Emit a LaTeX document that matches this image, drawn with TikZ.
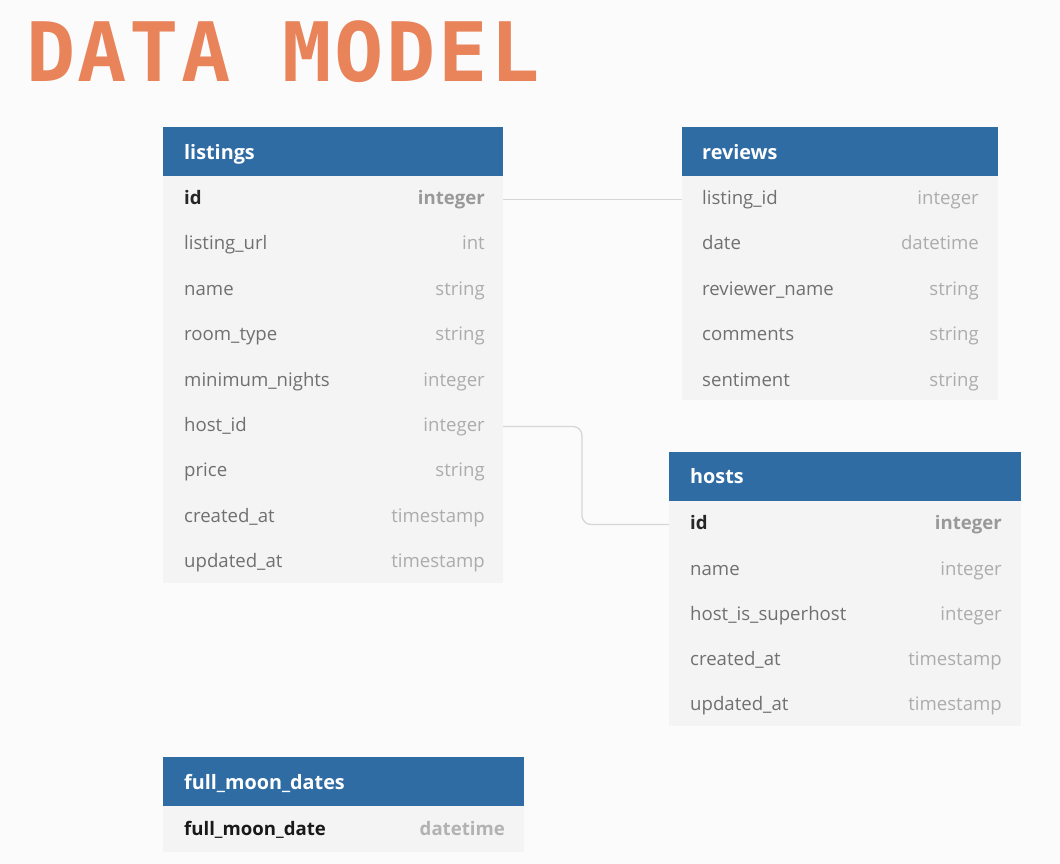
\documentclass[tikz,border=0pt]{standalone}
\usepackage{fontspec}
\setmainfont{Open Sans}
\newfontfamily\titlefont[LetterSpace=3]{DejaVu Sans Mono}
\usepackage{xcolor}
\usepackage{tikz}
\usetikzlibrary{positioning,calc}

\definecolor{hdrblue}{RGB}{47,108,164}
\definecolor{titleorange}{RGB}{233,131,90}
\definecolor{bodygray}{RGB}{244,244,245}
\definecolor{pagegray}{RGB}{251,251,251}
\definecolor{fieldgray}{RGB}{112,112,112}
\definecolor{typegray}{RGB}{172,172,172}
\definecolor{linkgray}{RGB}{214,214,214}

\tikzset{
    tblhead/.style={fill=hdrblue, anchor=north west, inner sep=0pt, outer sep=0pt, minimum height=49pt},
    tblbody/.style={fill=bodygray, anchor=north, inner sep=0pt, outer sep=0pt},
    hdrtext/.style={anchor=base west, inner sep=0pt, text=white, font=\fontsize{19.8}{19.8}\selectfont\bfseries},
    field/.style={anchor=base west, inner sep=0pt, text height=13pt, text depth=4pt, text=fieldgray, font=\fontsize{18.6}{18.6}\selectfont},
    ftype/.style={anchor=base east, inner sep=0pt, text height=13pt, text depth=4pt, text=typegray, font=\fontsize{18.6}{18.6}\selectfont},
    keyfield/.style={field, text=black!85, font=\fontsize{18.6}{18.6}\selectfont\bfseries},
    keytype/.style={ftype, text=black!40, font=\fontsize{18.6}{18.6}\selectfont\bfseries},
    link/.style={draw=linkgray, line width=1.3pt}
}

\begin{document}
\begin{tikzpicture}[x=1pt, y=-1pt]
    % Page
    \fill[pagegray] (0,0) rectangle (1060,864);
    \useasboundingbox (0,0) rectangle (1060,864);

    % Title
    \node[anchor=base west, inner sep=0pt, text=titleorange, font=\fontsize{82}{82}\titlefont\bfseries] (title) at (26,82) {DATA MODEL};

    % listings
    \node[tblhead, minimum width=340pt] (lst) at (163,127) {};
    \node[tblbody, minimum width=340pt, minimum height=407pt, below=0pt of lst] (lstbody) {};
    \node[hdrtext] (lst-title) at (184,159) {listings};
    \node[keyfield] (lst-id) at (184,204) {id};
    \node[keytype] (lst-id-t) at (485,204) {integer};
    \node[field] (lst-url) at (184,249) {listing\_url};
    \node[ftype] (lst-url-t) at (485,249) {int};
    \node[field] (lst-name) at (184,295) {name};
    \node[ftype] (lst-name-t) at (485,295) {string};
    \node[field] (lst-room) at (184,340) {room\_type};
    \node[ftype] (lst-room-t) at (485,340) {string};
    \node[field] (lst-min) at (184,386) {minimum\_nights};
    \node[ftype] (lst-min-t) at (485,386) {integer};
    \node[field] (lst-host) at (184,431) {host\_id};
    \node[ftype] (lst-host-t) at (485,431) {integer};
    \node[field] (lst-price) at (184,476) {price};
    \node[ftype] (lst-price-t) at (485,476) {string};
    \node[field] (lst-cre) at (184,522) {created\_at};
    \node[ftype] (lst-cre-t) at (485,522) {timestamp};
    \node[field] (lst-upd) at (184,567) {updated\_at};
    \node[ftype] (lst-upd-t) at (485,567) {timestamp};

    % reviews
    \node[tblhead, minimum width=316pt] (rev) at (682,127) {};
    \node[tblbody, minimum width=316pt, minimum height=224pt, below=0pt of rev] (revbody) {};
    \node[hdrtext] (rev-title) at (702,159) {reviews};
    \node[field] (rev-lid) at (702,204) {listing\_id};
    \node[ftype] (rev-lid-t) at (979,204) {integer};
    \node[field] (rev-date) at (702,249) {date};
    \node[ftype] (rev-date-t) at (979,249) {datetime};
    \node[field] (rev-name) at (702,295) {reviewer\_name};
    \node[ftype] (rev-name-t) at (979,295) {string};
    \node[field] (rev-com) at (702,340) {comments};
    \node[ftype] (rev-com-t) at (979,340) {string};
    \node[field] (rev-sent) at (702,386) {sentiment};
    \node[ftype] (rev-sent-t) at (979,386) {string};

    % hosts
    \node[tblhead, minimum width=352pt] (hst) at (669,452) {};
    \node[tblbody, minimum width=352pt, minimum height=225pt, below=0pt of hst] (hstbody) {};
    \node[hdrtext] (hst-title) at (690,483) {hosts};
    \node[keyfield] (hst-id) at (690,529) {id};
    \node[keytype] (hst-id-t) at (1002,529) {integer};
    \node[field] (hst-name) at (690,575) {name};
    \node[ftype] (hst-name-t) at (1002,575) {integer};
    \node[field] (hst-sup) at (690,620) {host\_is\_superhost};
    \node[ftype] (hst-sup-t) at (1002,620) {integer};
    \node[field] (hst-cre) at (690,665) {created\_at};
    \node[ftype] (hst-cre-t) at (1002,665) {timestamp};
    \node[field] (hst-upd) at (690,710) {updated\_at};
    \node[ftype] (hst-upd-t) at (1002,710) {timestamp};

    % full_moon_dates
    \node[tblhead, minimum width=361pt] (fmd) at (163,757) {};
    \node[tblbody, minimum width=361pt, minimum height=46pt, below=0pt of fmd] (fmdbody) {};
    \node[hdrtext] (fmd-title) at (184,789) {full\_moon\_dates};
    \node[keyfield, text=black!90] (fmd-date) at (184,835) {full\_moon\_date};
    \node[keytype, text=black!30] (fmd-date-t) at (505,835) {datetime};

    % Relations
    \coordinate (bend) at (582,430);
    \draw[link] (lst-id -| lst.east) -- (rev-lid -| rev.west);
    \draw[link, rounded corners=9pt] (lst-host -| lst.east) -- (lst-host -| bend) |- (hst-id -| hst.west);
\end{tikzpicture}
\end{document}
